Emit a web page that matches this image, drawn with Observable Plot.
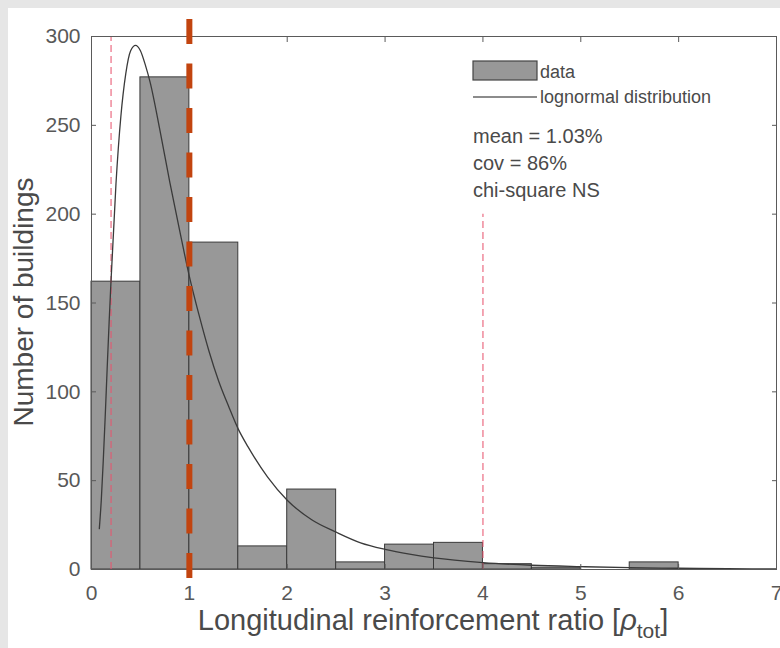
<!DOCTYPE html>
<html><head><meta charset="utf-8">
<script src="https://cdn.jsdelivr.net/npm/d3@7"></script>
<script src="https://cdn.jsdelivr.net/npm/@observablehq/plot@0.6"></script>
<style>
html,body{margin:0;padding:0;background:#e6e6e6;width:780px;height:648px;overflow:hidden;}
#chart{position:absolute;left:8px;top:8px;width:772px;height:640px;background:#fff;}
svg{font-family:"Liberation Sans",Arial,sans-serif;}
</style></head><body><div id="chart"></div>
<script>
// Histogram bins (ratio, %) and counts
const binStart = [0, 0.5, 1, 1.5, 2, 2.5, 3, 3.5, 4, 4.5, 5, 5.5, 6, 6.5];
const binEnd   = [0.5, 1, 1.5, 2, 2.5, 3, 3.5, 4, 4.5, 5, 5.5, 6, 6.5, 7];
const counts   = [162, 277, 184, 13, 45, 4, 14, 15, 3, 1, 0, 4, 0, 0];

// Fitted lognormal curve
const curveX = [0.08, 0.1, 0.12, 0.14, 0.16, 0.18, 0.2, 0.25, 0.3, 0.35, 0.4, 0.45, 0.5, 0.55, 0.6, 0.7, 0.8, 0.9, 1.0, 1.1, 1.2, 1.3, 1.4, 1.5, 1.6, 1.8, 2.0, 2.25, 2.5, 2.75, 3.0, 3.25, 3.5, 4.0, 4.5, 5.0, 5.5, 6.0, 6.5, 7.0];
const curveY = [23, 39, 61, 86, 113, 139, 163, 217, 255, 279, 292, 295, 292, 284, 274, 247, 218, 191, 165, 143, 123, 106, 92, 79, 69, 52, 39, 28, 21, 15, 11.3, 8.6, 6.5, 3.9, 2.4, 1.6, 1.0, 0.7, 0.5, 0.3];

// Reference lines
const pinkLineX = [0.2, 4];
const pinkLineTop = [300, 200];
const markerLineX = [1];

const xTicks = [0, 1, 2, 3, 4, 5, 6, 7];
const yTicks = [0, 50, 100, 150, 200, 250, 300];

const legendItems = ["data", "lognormal distribution"];
const statsLines = ["mean = 1.03%", "cov = 86%", "chi-square NS"];

const bars = binStart.map((s, i) => ({x1: s, x2: binEnd[i], y: counts[i]})).filter(d => d.y > 0);
const curve = curveX.map((x, i) => ({x, y: curveY[i]}));
const pinks = pinkLineX.map((x, i) => ({x, top: pinkLineTop[i]}));

const axisColor = "#555";
const fmt = d => String(d);
const svg = Plot.plot({
  width: 772, height: 640,
  marginLeft: 83, marginRight: 4, marginTop: 28, marginBottom: 79,
  style: {background: "white", fontFamily: "Liberation Sans, Arial, sans-serif", color: axisColor},
  x: {domain: [0, 7]},
  y: {domain: [0, 300]},
  marks: [
    Plot.rectY(bars, {x1: "x1", x2: "x2", y: "y", fill: "#989898", stroke: "#3a3a3a", strokeWidth: 1}),
    Plot.ruleX(pinks, {x: "x", y1: 0, y2: "top", stroke: "#e8546e", strokeOpacity: 0.65, strokeWidth: 1.6, strokeDasharray: "7,4"}),
    Plot.line(curve, {x: "x", y: "y", stroke: "#3a3a3a", strokeWidth: 1.3, curve: "monotone-x"}),
    Plot.frame({stroke: "#5a5a5a", strokeWidth: 1}),
    Plot.axisX({ticks: xTicks, tickFormat: fmt, tickSize: -5, tickPadding: 21, fontSize: 21, label: null, stroke: "#5a5a5a", fill: "#585858"}),
    Plot.axisX({anchor: "top", ticks: xTicks, tickSize: -5, tickFormat: () => "", label: null, stroke: "#5a5a5a"}),
    Plot.axisY({ticks: yTicks, tickFormat: fmt, tickSize: -5, tickPadding: 16, fontSize: 21, label: null, stroke: "#5a5a5a", fill: "#585858"}),
    Plot.axisY({anchor: "right", ticks: yTicks, tickSize: -5, tickFormat: () => "", label: null, stroke: "#5a5a5a"}),
    Plot.ruleX(markerLineX, {y1: -5.1, y2: 309.5, stroke: "#c2440f", strokeWidth: 6, strokeDasharray: "25,19.5"})
  ]
});
document.getElementById("chart").appendChild(svg);

const s = d3.select(svg);
const labelColor = "#4a4a4a";
// y axis title
s.append("text")
  .attr("transform", "translate(25,294) rotate(-90)")
  .attr("text-anchor", "middle")
  .attr("font-size", 28).attr("fill", labelColor)
  .text("Number of buildings");
// x axis title with subscript
const xl = s.append("text")
  .attr("x", 425).attr("y", 622)
  .attr("text-anchor", "middle")
  .attr("font-size", 29).attr("fill", labelColor);
xl.append("tspan").text("Longitudinal reinforcement ratio [");
xl.append("tspan").attr("font-style", "italic").text("ρ");
xl.append("tspan").attr("font-size", 21).attr("dy", 8).text("tot");
xl.append("tspan").attr("dy", -8).text("]");

// legend
s.append("rect").attr("x", 465).attr("y", 53).attr("width", 64).attr("height", 19)
  .attr("fill", "#989898").attr("stroke", "#444").attr("stroke-width", 1.2);
s.append("line").attr("x1", 465).attr("x2", 529).attr("y1", 89).attr("y2", 89)
  .attr("stroke", "#666").attr("stroke-width", 1.6);
s.selectAll("text.leg").data(legendItems).join("text").attr("class", "leg")
  .attr("x", 532).attr("y", (d, i) => 70 + i * 25)
  .attr("text-anchor", "start")
  .attr("font-size", 18).attr("fill", labelColor).text(d => d);
s.selectAll("text.stat").data(statsLines).join("text").attr("class", "stat")
  .attr("x", 465).attr("y", (d, i) => 135 + i * 27)
  .attr("text-anchor", "start")
  .attr("font-size", 20).attr("fill", labelColor).text(d => d);
</script>
</body></html>
